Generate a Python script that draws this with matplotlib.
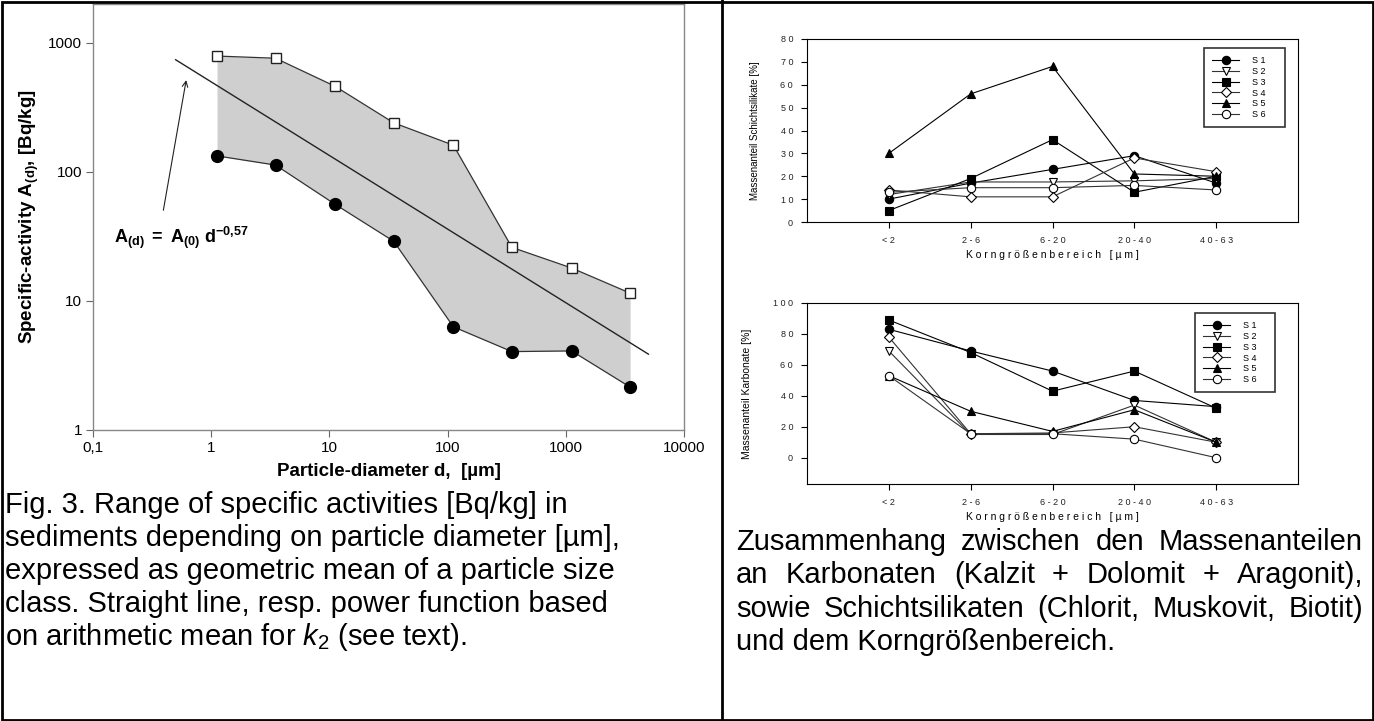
import matplotlib
matplotlib.use("Agg")
import matplotlib.pyplot as plt
from matplotlib.lines import Line2D
from matplotlib.patches import Rectangle

# Figure size in pixels
W, H = 1374, 721

# Left chart: specific activity vs particle diameter
diam = [1.12, 3.5, 11.2, 35, 112, 350, 1120, 3500]
act_max = [790, 760, 460, 240, 161, 26, 18, 11.5]
act_min = [133, 113, 56, 29, 6.3, 4.05, 4.1, 2.15]
fit_d = [0.5, 5000]
fit_a = [740, 3.87]
x_ticks = [0.1, 1, 10, 100, 1000, 10000]
x_ticklabels = ["0,1", "1", "10", "100", "1000", "10000"]
y_ticks = [1, 10, 100, 1000]
y_ticklabels = ["1", "10", "100", "1000"]

# Right charts: mass fractions per grain size class
classes = ["< 2", "2 - 6", "6 - 2 0", "2 0 - 4 0", "4 0 - 6 3"]
samples = ["S 1", "S 2", "S 3", "S 4", "S 5", "S 6"]
silikate = [
    [10, 17, 23, 29, 17],
    [12, 17.5, 17.5, 18, 19],
    [5, 19, 36, 13, 20],
    [14, 11, 11, 28, 22],
    [30, 56, 68, 21, 20],
    [13, 15, 15, 16, 14],
]
karbonate = [
    [83, 69, 56, 37, 33],
    [69, 15, 15, 34, 10],
    [89, 68, 43, 56, 32],
    [78, 15.5, 16, 20, 10],
    [53, 30, 17, 31, 10],
    [53, 15.5, 15.5, 12, 0],
]

# marker, face colour, line colour for S1..S6
styles = [("o", "black", "black"), ("v", "white", "#333333"), ("s", "black", "black"),
          ("D", "white", "#333333"), ("^", "black", "black"), ("o", "white", "#333333")]

plt.rcParams["font.family"] = "Liberation Sans"
plt.rcParams["mathtext.fontset"] = "custom"
plt.rcParams["mathtext.rm"] = "Liberation Sans"
plt.rcParams["mathtext.it"] = "Liberation Sans:italic"
plt.rcParams["mathtext.bf"] = "Liberation Sans:bold"


def box(x0, y0, x1, y1):
    return [x0 / W, 1 - y1 / H, (x1 - x0) / W, (y1 - y0) / H]


fig = plt.figure(figsize=(W / 100, H / 100), dpi=100)

# outer frame and divider
fig.patches.append(Rectangle((1.5 / W, 1.5 / H), (W - 3) / W, (H - 3) / H, transform=fig.transFigure,
                             fill=False, edgecolor="black", linewidth=2))
fig.add_artist(Line2D([721.5 / W, 721.5 / W], [0, 1], transform=fig.transFigure, color="black", linewidth=2))

# ---- left chart ----
ax = fig.add_axes(box(93, 4, 684, 430))
ax.set_xscale("log")
ax.set_yscale("log")
ax.fill_between(diam, act_min, act_max, color="#cfcfcf", linewidth=0)
ax.plot(diam, act_max, color="#333333", linewidth=0.9, marker="s", markersize=7,
        markerfacecolor="white", markeredgecolor="#222222", markeredgewidth=1)
ax.plot(diam, act_min, color="#333333", linewidth=0.9, marker="o", markersize=8.5,
        markerfacecolor="black", markeredgecolor="black")
ax.plot(fit_d, fit_a, color="#222222", linewidth=1)
ax.annotate("", xy=(0.62, 540), xytext=(0.39, 48),
            arrowprops=dict(arrowstyle="->", color="#222222", linewidth=0.8))
ax.text(0.15, 31, r"$\mathbf{A_{(d)}\ =\ A_{(0)}\ d^{-0{,}57}}$", fontsize=13, va="center")
ax.set_xlim(0.1, 10000)
ax.set_ylim(1, 2000)
ax.set_xticks(x_ticks)
ax.set_xticklabels(x_ticklabels)
ax.set_yticks(y_ticks)
ax.set_yticklabels(y_ticklabels)
ax.minorticks_off()
ax.tick_params(direction="out", length=5, color="#666666", labelsize=11, pad=3)
for s in ax.spines.values():
    s.set_color("#888888")
    s.set_linewidth(1)
ax.set_xlabel("Particle-diameter d,  [µm]", fontsize=13.5, fontweight="bold", labelpad=6)
ax.set_ylabel(r"Specific-activity $\mathbf{A_{(d)}}$, [Bq/kg]", fontsize=13.5,
              fontweight="bold", labelpad=5)


# ---- right charts ----
def mass_chart(rect, data, ymin, ymax, yticks, ylabel, ylabel_size, leg_rect):
    a = fig.add_axes(rect)
    pos = list(range(len(classes)))
    for vals, lab, (m, fc, lc) in zip(data, samples, styles):
        a.plot(pos, vals, color=lc, linewidth=0.8, marker=m, markersize=6 if m != "D" else 5,
               markerfacecolor=fc, markeredgecolor="black", markeredgewidth=0.8, label=lab)
    a.set_xlim(-1, len(classes))
    a.set_ylim(ymin, ymax)
    a.set_xticks(pos)
    a.set_xticklabels(classes)
    a.set_yticks(yticks)
    a.set_yticklabels([" ".join(str(v)) for v in yticks])
    a.tick_params(direction="out", length=4, width=0.8, labelsize=6.5, labelcolor="#222222", pad=6)
    for s in a.spines.values():
        s.set_linewidth(0.8)
    a.set_xlabel("K o r n g r ö ß e n b e r e i c h   [ µ m ]", fontsize=7.5, labelpad=4)
    a.set_ylabel(ylabel, fontsize=ylabel_size, labelpad=15)
    x0, y0, x1, y1 = leg_rect
    leg = a.legend(loc="upper left", bbox_to_anchor=(x0 / W, 1 - y0 / H, (x1 - x0) / W, 0),
                   bbox_transform=fig.transFigure, mode="expand", fontsize=6.5, frameon=True,
                   fancybox=False, edgecolor="black", borderpad=0.9, labelspacing=0.2,
                   handlelength=3.0, handletextpad=1.4, borderaxespad=0)
    leg.get_frame().set_linewidth(1.2)
    return a


mass_chart(box(807, 39, 1298, 222), silikate, 0, 80, [0, 10, 20, 30, 40, 50, 60, 70, 80],
           "Massenanteil Schichtsilikate [%]", 7, (1204, 48, 1285, 123))
mass_chart(box(807, 303, 1298, 484), karbonate, -17, 100, [0, 20, 40, 60, 80, 100],
           "Massenanteil Karbonate [%]", 7.5, (1195, 313, 1275, 388))

# ---- captions (positions are baselines in pixels) ----
cap_size = 21
left_lines = [
    "Fig. 3. Range of specific activities [Bq/kg] in",
    "sediments depending on particle diameter [µm],",
    "expressed as geometric mean of a particle size",
    "class. Straight line, resp. power function based",
    r"on arithmetic mean for $k_2$ (see text).",
]
left_y = [513, 546, 579, 612, 645]
for line, y in zip(left_lines, left_y):
    fig.text(5 / W, 1 - y / H, line, fontsize=cap_size, va="baseline", ha="left")

right_lines = [
    "Zusammenhang zwischen den Massenanteilen",
    "an Karbonaten (Kalzit + Dolomit + Aragonit),",
    "sowie Schichtsilikaten (Chlorit, Muskovit, Biotit)",
    "und dem Korngrößenbereich.",
]
right_y = [550, 583, 617, 650]
rx0, rx1 = 736, 1363
renderer = fig.canvas.get_renderer()
for i, (line, y) in enumerate(zip(right_lines, right_y)):
    if i == len(right_lines) - 1:
        fig.text(rx0 / W, 1 - y / H, line, fontsize=cap_size, va="baseline", ha="left")
        continue
    words = line.split(" ")
    texts = [fig.text(0, 1 - y / H, w, fontsize=cap_size, va="baseline", ha="left") for w in words]
    widths = [t.get_window_extent(renderer).width for t in texts]
    gap = (rx1 - rx0 - sum(widths)) / (len(words) - 1)
    x = rx0
    for t, w in zip(texts, widths):
        t.set_x(x / W)
        x += w + gap

fig.savefig("out.png", dpi=100)
